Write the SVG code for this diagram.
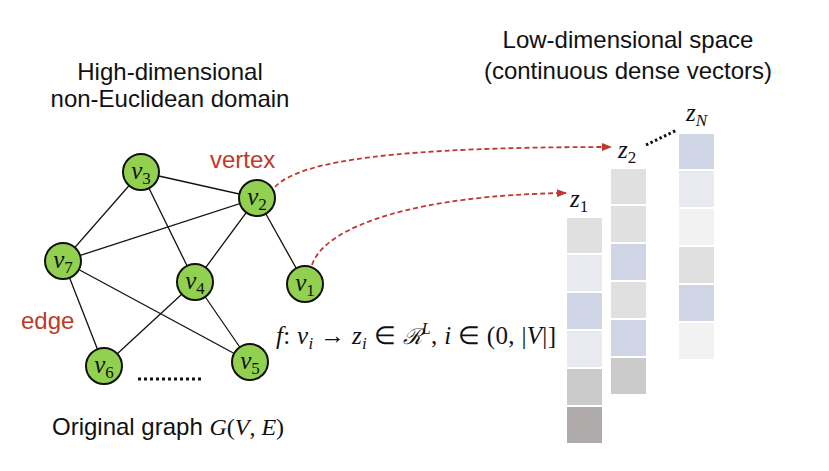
<svg xmlns="http://www.w3.org/2000/svg" width="829" height="471" viewBox="0 0 829 471">
<style>
.t{font-family:"Liberation Sans",Arial,sans-serif;font-size:24px;fill:#111}
.r{font-family:"Liberation Sans",Arial,sans-serif;font-size:24px;fill:#c0392b}
.m{font-family:"Liberation Serif","Times New Roman",serif;font-style:italic;fill:#111}
.mu{font-family:"Liberation Serif","Times New Roman",serif;font-style:normal;fill:#111}
.node{fill:#92d050;stroke:#111;stroke-width:2}
.edge{stroke:#111;stroke-width:1.3;fill:none}
.arr{stroke:#c0392b;stroke-width:1.8;stroke-dasharray:5 3;fill:none}
</style>
<defs>
<marker id="ah" markerWidth="10" markerHeight="8" refX="9" refY="4" orient="auto" markerUnits="userSpaceOnUse">
<path d="M0,0 L10,4 L0,8 Z" fill="#c0392b"/>
</marker>
</defs>
<rect width="829" height="471" fill="#fff"/>
<text class="t" x="170" y="80" text-anchor="middle">High-dimensional</text>
<text class="t" x="170" y="107" text-anchor="middle">non-Euclidean domain</text>
<text class="t" x="628" y="48" text-anchor="middle">Low-dimensional space</text>
<text class="t" x="628" y="79" text-anchor="middle">(continuous dense vectors)</text>
<text class="r" x="210" y="168">vertex</text>
<text class="r" x="21" y="329">edge</text>
<text class="t" x="52" y="435" font-size="23">Original graph <tspan class="m" font-size="24">G</tspan><tspan class="mu" font-size="24">(</tspan><tspan class="m" font-size="24">V</tspan><tspan class="mu" font-size="24">, </tspan><tspan class="m" font-size="24">E</tspan><tspan class="mu" font-size="24">)</tspan></text>
<g id="edges">
<line class="edge" x1="141" y1="172" x2="257" y2="198"/>
<line class="edge" x1="141" y1="172" x2="63" y2="261"/>
<line class="edge" x1="141" y1="172" x2="195" y2="282"/>
<line class="edge" x1="257" y1="198" x2="63" y2="261"/>
<line class="edge" x1="257" y1="198" x2="195" y2="282"/>
<line class="edge" x1="257" y1="198" x2="305" y2="284"/>
<line class="edge" x1="63" y1="261" x2="104" y2="366"/>
<line class="edge" x1="63" y1="261" x2="250" y2="362"/>
<line class="edge" x1="195" y1="282" x2="104" y2="366"/>
<line class="edge" x1="195" y1="282" x2="250" y2="362"/>
<path class="arr" d="M275,187 C300,160 400,147 611,147" marker-end="url(#ah)"/>
<path class="arr" d="M312,265 C325,225 420,195 566,193" marker-end="url(#ah)"/>
<line x1="138" y1="379" x2="202" y2="379" stroke="#111" stroke-width="3" stroke-dasharray="3 3"/>
<line x1="646" y1="145" x2="677" y2="130" stroke="#111" stroke-width="3" stroke-dasharray="2.5 2.5"/>
</g>
<g id="v3"><circle class="node" cx="141" cy="172" r="18"/><text class="m" x="141" y="179" font-size="25" text-anchor="middle">v<tspan class="mu" font-size="17" dy="5">3</tspan></text></g>
<g id="v2"><circle class="node" cx="257" cy="198" r="18"/><text class="m" x="257" y="205" font-size="25" text-anchor="middle">v<tspan class="mu" font-size="17" dy="5">2</tspan></text></g>
<g id="v7"><circle class="node" cx="63" cy="261" r="18"/><text class="m" x="63" y="268" font-size="25" text-anchor="middle">v<tspan class="mu" font-size="17" dy="5">7</tspan></text></g>
<g id="v4"><circle class="node" cx="195" cy="282" r="18"/><text class="m" x="195" y="289" font-size="25" text-anchor="middle">v<tspan class="mu" font-size="17" dy="5">4</tspan></text></g>
<g id="v1"><circle class="node" cx="305" cy="284" r="18"/><text class="m" x="305" y="291" font-size="25" text-anchor="middle">v<tspan class="mu" font-size="17" dy="5">1</tspan></text></g>
<g id="v6"><circle class="node" cx="104" cy="366" r="18"/><text class="m" x="104" y="373" font-size="25" text-anchor="middle">v<tspan class="mu" font-size="17" dy="5">6</tspan></text></g>
<g id="v5"><circle class="node" cx="250" cy="362" r="18"/><text class="m" x="250" y="369" font-size="25" text-anchor="middle">v<tspan class="mu" font-size="17" dy="5">5</tspan></text></g>
<text class="m" x="276" y="344" font-size="25" textLength="280" lengthAdjust="spacing">f<tspan class="mu">: </tspan>v<tspan font-size="17" dy="5">i</tspan><tspan class="mu" dy="-5"> → </tspan>z<tspan font-size="17" dy="5">i</tspan><tspan class="mu" dy="-5"> ∈ </tspan><tspan font-family="DejaVu Serif" font-size="22">ℛ</tspan><tspan font-size="16" dy="-10">L</tspan><tspan class="mu" dy="10">, </tspan>i<tspan class="mu"> ∈ (0, |</tspan>V<tspan class="mu">|]</tspan></text>
<g id="z1">
<text class="m" x="570" y="207" font-size="25">z<tspan class="mu" font-size="17" dy="5">1</tspan></text>
<rect x="567" y="218" width="35" height="35" fill="#e0e0e0"/>
<rect x="567" y="255" width="35" height="36" fill="#e9eaef"/>
<rect x="567" y="293" width="35" height="36" fill="#d0d5e6"/>
<rect x="567" y="331" width="35" height="36" fill="#e9eaef"/>
<rect x="567" y="369" width="35" height="36" fill="#cbcbcb"/>
<rect x="567" y="407" width="35" height="36" fill="#afabab"/>
</g>
<g id="z2">
<text class="m" x="618" y="158" font-size="25">z<tspan class="mu" font-size="17" dy="5">2</tspan></text>
<rect x="611" y="169" width="35" height="35" fill="#e0e0e0"/>
<rect x="611" y="206" width="35" height="36" fill="#e0e0e0"/>
<rect x="611" y="244" width="35" height="36" fill="#d0d5e6"/>
<rect x="611" y="282" width="35" height="36" fill="#e0e0e0"/>
<rect x="611" y="320" width="35" height="36" fill="#d0d5e6"/>
<rect x="611" y="358" width="35" height="36" fill="#cbcbcb"/>
</g>
<g id="zN">
<text class="m" x="686" y="121" font-size="25">z<tspan font-size="17" dy="5">N</tspan></text>
<rect x="679" y="134" width="35" height="35" fill="#d0d5e6"/>
<rect x="679" y="171" width="35" height="36" fill="#e9eaef"/>
<rect x="679" y="209" width="35" height="36" fill="#f2f2f2"/>
<rect x="679" y="247" width="35" height="36" fill="#e0e0e0"/>
<rect x="679" y="285" width="35" height="36" fill="#d0d5e6"/>
<rect x="679" y="323" width="35" height="36" fill="#f2f2f2"/>
</g>
</svg>
